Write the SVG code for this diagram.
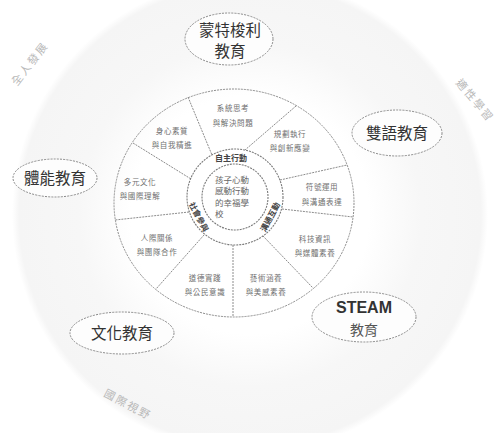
<svg xmlns="http://www.w3.org/2000/svg" width="500" height="433" viewBox="0 0 500 433">
<defs>
<radialGradient id="bg" cx="0.5" cy="0.5" r="0.5">
<stop offset="0" stop-color="#ffffff"/>
<stop offset="0.5" stop-color="#ffffff"/>
<stop offset="0.72" stop-color="#f7f7f7"/>
<stop offset="0.97" stop-color="#f5f5f5"/>
<stop offset="1" stop-color="#ffffff"/>
</radialGradient>
<style>
.ln{stroke:#8c8c8c;stroke-width:1;fill:none;stroke-dasharray:2 1}
.ring{stroke:#7a7a7a;stroke-width:1.1;fill:none;stroke-dasharray:2 1}
.oval{fill:#fdfdfd;stroke:#8a8a8a;stroke-width:1;stroke-dasharray:2 1.2}
.cjk{font-family:"Noto Sans CJK TC","Noto Sans CJK SC",sans-serif}
.seg{font-size:7.5px;fill:#707070;text-anchor:middle;letter-spacing:0.6px}
.lab{font-size:15.5px;fill:#333;text-anchor:middle}
.core{font-size:8px;fill:#444;font-weight:bold;text-anchor:middle}
.ctr{font-size:8.5px;fill:#666}
.faint{font-size:11px;fill:#b8b8b8;text-anchor:middle;letter-spacing:2px}
</style>
</defs>
<rect width="500" height="433" fill="#ffffff"/>
<circle cx="250" cy="215" r="238" fill="url(#bg)"/>

<g id="faint-labels" class="cjk">
<text class="faint" transform="translate(33,66) rotate(-52)">全人發展</text>
<text class="faint" transform="translate(472,103) rotate(50)">適性學習</text>
<text class="faint" transform="translate(126,408) rotate(28)">國際視野</text>
</g>

<g id="wheel">
<ellipse class="ln" cx="234" cy="203" rx="120" ry="114" fill="#ffffff"/>
</g>

<g id="connectors">
<line class="ln" x1="133" y1="143" x2="191" y2="179"/>
<line class="ln" x1="188" y1="97" x2="212" y2="155"/>
<line class="ln" x1="296" y1="106" x2="245" y2="150"/>
<line class="ln" x1="280" y1="180" x2="347" y2="165"/>
<line class="ln" x1="282" y1="209" x2="353" y2="217"/>
<line class="ln" x1="263" y1="236" x2="313" y2="288"/>
<line class="ln" x1="233" y1="245" x2="233" y2="317"/>
<line class="ln" x1="204" y1="235" x2="156" y2="289"/>
<line class="ln" x1="189" y1="212" x2="115" y2="220"/>
</g>

<g id="segments" class="cjk">
<g id="seg-a1"><text class="seg" x="172" y="134">身心素質</text><text class="seg" x="172" y="148">與自我精進</text></g>
<g id="seg-a2"><text class="seg" x="233" y="111">系統思考</text><text class="seg" x="233" y="126">與解決問題</text></g>
<g id="seg-a3"><text class="seg" x="290" y="137">規劃執行</text><text class="seg" x="290" y="151">與創新應變</text></g>
<g id="seg-b1"><text class="seg" x="322" y="190">符號運用</text><text class="seg" x="322" y="205">與溝通表達</text></g>
<g id="seg-b2"><text class="seg" x="315" y="242">科技資訊</text><text class="seg" x="315" y="256">與媒體素養</text></g>
<g id="seg-b3"><text class="seg" x="266" y="281">藝術涵養</text><text class="seg" x="266" y="295">與美感素養</text></g>
<g id="seg-c1"><text class="seg" x="205" y="281">道德實踐</text><text class="seg" x="205" y="295">與公民意識</text></g>
<g id="seg-c2"><text class="seg" x="157" y="241">人際關係</text><text class="seg" x="157" y="255">與團隊合作</text></g>
<g id="seg-c3"><text class="seg" x="140" y="185">多元文化</text><text class="seg" x="140" y="199">與國際理解</text></g>
</g>

<g id="core" class="cjk">
<circle class="ring" cx="235" cy="197" r="48" fill="#ffffff"/>
<circle class="ring" cx="235" cy="197" r="33"/>
<text class="core" x="231" y="161">自主行動</text>
<text class="core" transform="translate(199,217) rotate(62)" dy="3">社會參與</text>
<text class="core" transform="translate(270,217) rotate(-62)" dy="3">溝通互動</text>
<text class="ctr" x="215" y="183">孩子心動</text>
<text class="ctr" x="215" y="194">感動行動</text>
<text class="ctr" x="215" y="206">的幸福學</text>
<text class="ctr" x="215" y="217">校</text>
</g>

<g id="node-montessori" class="cjk">
<ellipse class="oval" cx="229" cy="39" rx="44" ry="26"/>
<text class="lab" x="230" y="36">蒙特梭利</text>
<text class="lab" x="230" y="57">教育</text>
</g>
<g id="node-bilingual" class="cjk">
<ellipse class="oval" cx="397" cy="133" rx="45" ry="23"/>
<text class="lab" x="397" y="139">雙語教育</text>
</g>
<g id="node-physical" class="cjk">
<ellipse class="oval" cx="55" cy="178" rx="42" ry="19"/>
<text class="lab" x="55" y="184">體能教育</text>
</g>
<g id="node-culture" class="cjk">
<ellipse class="oval" cx="122" cy="333" rx="52" ry="21"/>
<text class="lab" x="122" y="339">文化教育</text>
</g>
<g id="node-steam">
<ellipse class="oval" cx="364" cy="317" rx="52" ry="25"/>
<text x="364" y="313" text-anchor="middle" font-family="Liberation Sans, Arial, sans-serif" font-weight="bold" font-size="16" fill="#333">STEAM</text>
<text class="lab cjk" x="364" y="335" style="font-size:14px;fill:#555">教育</text>
</g>
</svg>
